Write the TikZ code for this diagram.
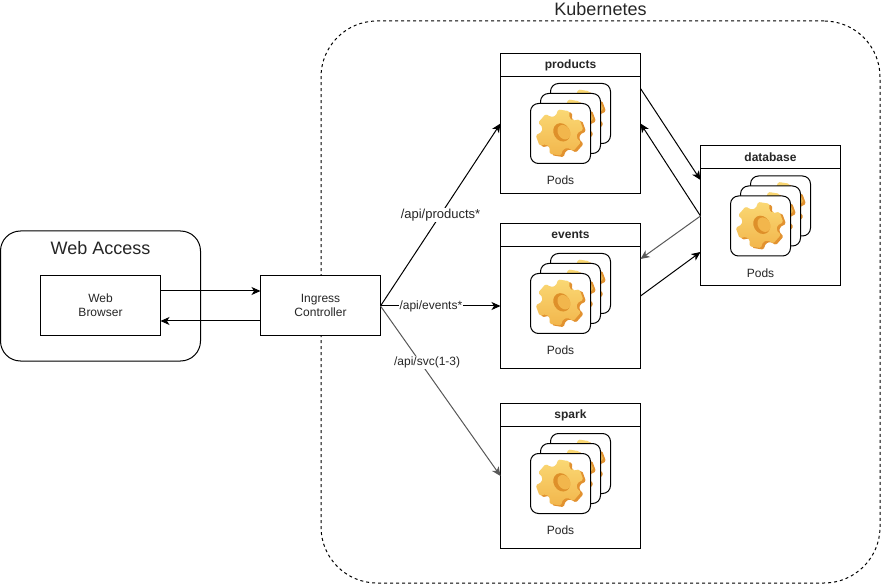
\documentclass[tikz,border=0pt]{standalone}
\usepackage{fontspec}
\setmainfont{Liberation Sans}
\usetikzlibrary{arrows.meta, positioning}
\usepackage{xcolor}
\definecolor{gearlight}{RGB}{250,216,116}
\definecolor{gearmid}{RGB}{242,182,76}
\definecolor{geardark}{RGB}{226,146,48}
\definecolor{gearhole}{RGB}{222,144,42}
\tikzset{
    base/.style={font=\fontsize{12}{14}\selectfont, text=black!85, outer sep=0pt},
    box/.style={base, draw=black, line width=1pt, fill=white, anchor=north west, inner sep=0pt},
    actor/.style={box, minimum width=120pt, minimum height=60pt, align=center, text depth=2pt},
    panel/.style={box, minimum width=140pt},
    panelhead/.style={box, minimum width=140pt, minimum height=23pt, font=\fontsize{12}{14}\selectfont\bfseries},
    podcard/.style={box, minimum width=60pt, minimum height=60pt, rounded corners=8pt},
    podlabel/.style={base},
    grouptitle/.style={base, font=\fontsize{18}{21}\selectfont},
    flow/.style={line width=1pt, -{Stealth[length=9pt, width=8pt, inset=2.5pt]}},
    thinflow/.style={flow, black!65},
    edgelabel/.style={base, fill=white, inner sep=1pt}
}
% One gear, centred on the current origin
\newcommand{\gearpath}{(338:18) \foreach \a in {0,60,...,300} {-- (\a-22:18) -- (\a-14:24) -- (\a+14:24) -- (\a+22:18)} -- cycle}
\newcommand{\podgear}[2]{
    \begin{scope}[shift={(#1,#2)}, rotate=20, yscale=.96]
        \fill[geardark, shift={(2,2.5)}, rounded corners=1.5pt] \gearpath;
        \shade[top color=gearlight, bottom color=gearmid, rounded corners=1.5pt] \gearpath;
        \fill[gearhole, rotate=10] (2,1) ellipse (8 and 10);
        \fill[gearmid, rotate=10] (4,2) ellipse (6 and 8);
    \end{scope}
}
% Box with a title bar, three pod cards and a caption
\newcommand{\servicepanel}[5]{
    \node[panel, minimum height=#5pt] (#1) at (#3,#4) {};
    \node[panelhead] (#1head) at (#3,#4) {#2};
    \foreach \i/\dx/\dy in {1/50/30, 2/40/40, 3/30/50} {
        \node[podcard] (#1card\i) at (#3+\dx,#4+\dy) {};
        \podgear{#3+\dx+29}{#4+\dy+29}
    }
    \node[podlabel] (#1pods) at (#3+60,#4+127) {Pods};
}
\begin{document}
\begin{tikzpicture}[x=1pt, y=-1pt]
    \useasboundingbox (0,0) rectangle (881,585);
    % Groups
    \node[box, dashed, dash pattern=on 3pt off 3pt, minimum width=559pt, minimum height=562pt, rounded corners=56pt] (kubernetes) at (321,21) {};
    \node[grouptitle, above=2pt of kubernetes.north] (kubernetestitle) {Kubernetes};
    \node[box, minimum width=200pt, minimum height=130pt, rounded corners=20pt] (webaccess) at (.5,231) {};
    \node[grouptitle] (webaccesstitle) at (100.5,248) {Web Access};
    % Boxes
    \node[actor] (browser) at (40.5,276) {Web\\Browser};
    \node[actor] (ingress) at (260.5,276) {Ingress\\Controller};
    \servicepanel{products}{products}{500.5}{53.5}{140}
    \servicepanel{events}{events}{500.5}{223.5}{145}
    \servicepanel{spark}{spark}{500.5}{403.5}{145}
    \servicepanel{database}{database}{700.5}{146}{140}
    % Connectors
    \draw[flow] ([yshift=15pt]browser.east) -- ([yshift=15pt]ingress.west);
    \draw[flow] ([yshift=-15pt]ingress.west) -- ([yshift=-15pt]browser.east);
    \draw[flow] (ingress.east) -- node[edgelabel, font=\fontsize{13}{15}\selectfont] {/api/products*} (products.west);
    \draw[flow] (ingress.east) -- node[edgelabel, pos=.42] {/api/events*} (ingress.east -| events.west);
    \draw[thinflow] (ingress.east) -- node[edgelabel, pos=.33, xshift=7pt, text=black!85] {/api/svc(1-3)} (spark.west);
    \draw[flow] ([yshift=35pt]products.east) -- ([yshift=36pt]database.west);
    \draw[flow] (database.west) -- (products.east);
    \draw[thinflow] (database.west) -- ([yshift=37pt]events.east);
    \draw[flow] (events.east) -- ([yshift=-36pt]database.west);
\end{tikzpicture}
\end{document}
